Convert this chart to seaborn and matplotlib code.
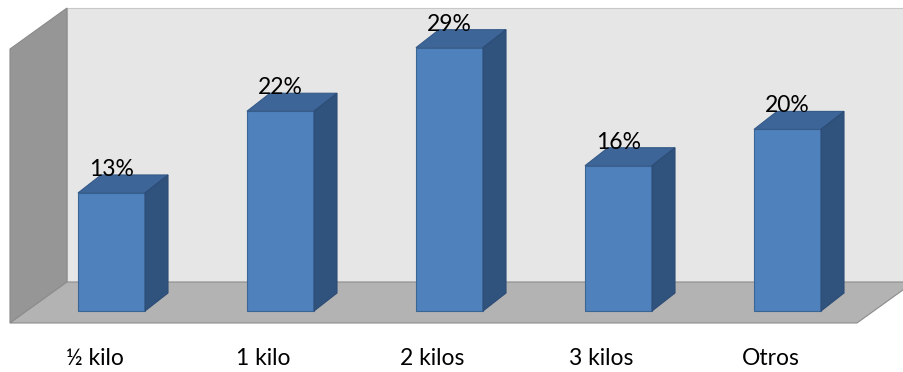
import matplotlib
matplotlib.use("Agg")
import matplotlib.pyplot as plt
import seaborn as sns
import pandas as pd
from matplotlib.patches import Polygon

categories = ["½ kilo", "1 kilo", "2 kilos", "3 kilos", "Otros"]
values = [13, 22, 29, 16, 20]
value_labels = ["13%", "22%", "29%", "16%", "20%"]

sns.set_theme(style="white")
plt.rcParams["font.family"] = ["Lato", "DejaVu Sans"]

W, H = 904, 372
fig = plt.figure(figsize=(W / 100, H / 100), dpi=100)
ax = fig.add_axes([0, 0, 1, 1])

# pixel scale of the plot: one category step and one percent point
step_px = 169.0
unit_px = 9.08
x0_px = 111.5      # centre of first bar front face
y0_px = 311.0      # baseline of bar front faces (from top)

def px_x(p):
    return (p - x0_px) / step_px

def px_y(p):
    return (y0_px - p) / unit_px

df = pd.DataFrame({"cat": categories, "val": values})
sns.barplot(data=df, x="cat", y="val", ax=ax, color="#4f81bd",
            width=67 / step_px, saturation=1, edgecolor="#3b6593",
            linewidth=0.8, zorder=3)

ax.set_xlim(px_x(0), px_x(W))
ax.set_ylim(px_y(H), px_y(0))
ax.axis("off")

# depth of the chart box and of each bar, in data units
wall_dx, wall_dy = px_x(67) - px_x(10), px_y(282) - px_y(323)
bar_dx, bar_dy = 23 / step_px, 18 / unit_px

floor_front = px_y(323)
floor_back = floor_front + wall_dy
wall_top = px_y(8)
left_front = px_x(10)
left_back = left_front + wall_dx
right_front = px_x(857)
right_back = right_front + wall_dx

# back wall
ax.add_patch(Polygon([(left_back, floor_back), (px_x(W + 20), floor_back),
                      (px_x(W + 20), wall_top), (left_back, wall_top)],
                     closed=True, facecolor="#e6e6e6", edgecolor="#c8c8c8",
                     linewidth=0.8, zorder=0))
# side wall
ax.add_patch(Polygon([(left_front, floor_front), (left_back, floor_back),
                      (left_back, wall_top), (left_front, wall_top - wall_dy)],
                     closed=True, facecolor="#969696", edgecolor="#8a8a8a",
                     linewidth=0.8, zorder=0))
# floor
ax.add_patch(Polygon([(left_front, floor_front), (right_front, floor_front),
                      (right_back, floor_back), (left_back, floor_back)],
                     closed=True, facecolor="#b3b3b3", edgecolor="#8c8c8c",
                     linewidth=0.8, zorder=0.5))

# tops and sides of the bars, with the value above each one
bars = [p for p in ax.patches if hasattr(p, "get_width")][:len(values)]
for patch, lab in zip(bars, value_labels):
    x = patch.get_x()
    w = patch.get_width()
    h = patch.get_height()
    b = patch.get_y()
    top = [(x, b + h), (x + w, b + h), (x + w + bar_dx, b + h + bar_dy),
           (x + bar_dx, b + h + bar_dy)]
    side = [(x + w, b), (x + w + bar_dx, b + bar_dy),
            (x + w + bar_dx, b + h + bar_dy), (x + w, b + h)]
    ax.add_patch(Polygon(top, closed=True, facecolor="#3d6597",
                         edgecolor="#355a88", linewidth=0.8, zorder=3))
    ax.add_patch(Polygon(side, closed=True, facecolor="#30537e",
                         edgecolor="#2c4c75", linewidth=0.8, zorder=3))
    ax.text(x + w / 2, b + h + bar_dy - 0.1, lab, ha="center", va="baseline",
            fontsize=16.5, color="#000000", zorder=4)

for i, cat in enumerate(categories):
    ax.text(i - 17 / step_px, px_y(365), cat, ha="center", va="baseline",
            fontsize=16.5, color="#000000")

fig.savefig("out.png", dpi=100)
